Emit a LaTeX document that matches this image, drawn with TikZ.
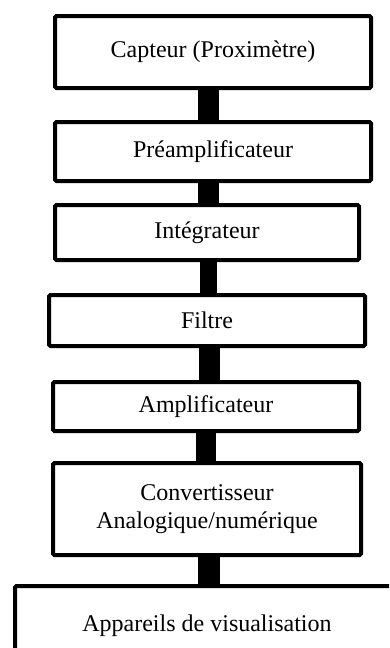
\documentclass[tikz,border=0pt]{standalone}
\usepackage{fontspec}
\setmainfont{Liberation Serif}
\begin{document}
\begin{tikzpicture}[x=1pt,y=-1pt,
  blk/.style={draw=black, line width=4pt, rounded corners=1.5pt, fill=white,
    inner sep=0pt, align=center, font=\fontsize{24}{28.5}\selectfont},
  conn/.style={draw=black, line width=#1, line cap=butt}]
\useasboundingbox (0,0) rectangle (389,648);
\clip (0,0) rectangle (389,648);
\node[blk, minimum width=316pt, minimum height=72pt] (b1) at (213,52) {Capteur (Proximètre)};
\node[blk, minimum width=316pt, minimum height=59pt] (b2) at (213,151.5) {Préamplificateur};
\node[blk, minimum width=304pt, minimum height=55pt] (b3) at (207,232.5) {Intégrateur};
\node[blk, minimum width=316pt, minimum height=51pt] (b4) at (207,320.5) {Filtre};
\node[blk, minimum width=306pt, minimum height=49pt] (b5) at (206,406.5) {Amplificateur};
\node[blk, minimum width=308pt, minimum height=92pt] (b6) at (207,509) {Convertisseur\\Analogique/numérique};
\node[blk, minimum width=384pt, minimum height=80pt] (b7) at (207,626) {Appareils de visualisation};
\draw[conn=21pt] (b1.south -| 208.5,0) -- (b2.north -| 208.5,0);
\draw[conn=21pt] (b2.south -| 208.5,0) -- (b3.north -| 208.5,0);
\draw[conn=17pt] (b3.south -| 208.5,0) -- (b4.north -| 208.5,0);
\draw[conn=21pt] (b4.south -| 209.5,0) -- (b5.north -| 209.5,0);
\draw[conn=20pt] (b5.south -| 206,0) -- (b6.north -| 206,0);
\draw[conn=22pt] (b6.south -| 209,0) -- (b7.north -| 209,0);
\end{tikzpicture}
\end{document}
